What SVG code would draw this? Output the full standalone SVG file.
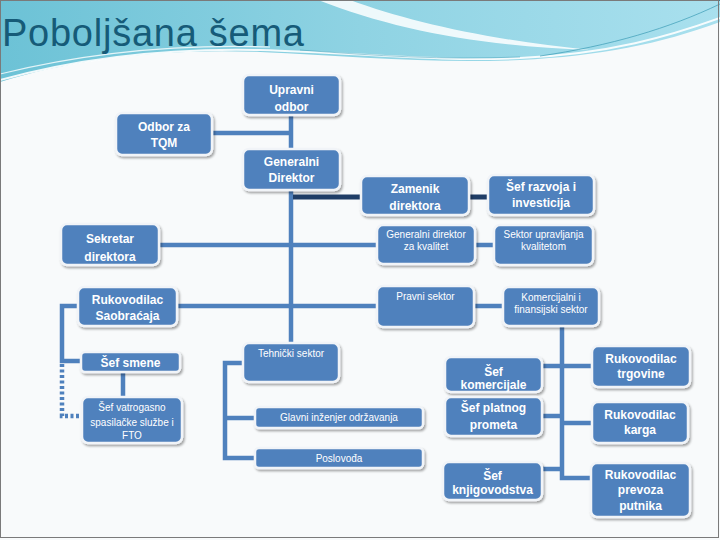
<svg xmlns="http://www.w3.org/2000/svg" width="720" height="540" viewBox="0 0 720 540">
<defs>
<linearGradient id="wave" x1="0" y1="0" x2="1" y2="0">
<stop offset="0" stop-color="#6cc2d6"/>
<stop offset="0.5" stop-color="#8fd3e3"/>
<stop offset="1" stop-color="#a9e0ee"/>
</linearGradient>
<filter id="sh" x="-10%" y="-10%" width="130%" height="140%">
<feDropShadow dx="1.5" dy="2" stdDeviation="1.2" flood-color="#000" flood-opacity="0.35"/>
</filter>
<style>
.box{fill:#4f81bd;stroke:#f1f4f8;stroke-width:2.5;filter:url(#sh)}
.t{font-family:"Liberation Sans",Arial,sans-serif;font-size:12px;font-weight:bold;fill:#ffffff;text-anchor:middle}
.s{font-family:"Liberation Sans",Arial,sans-serif;font-size:10px;fill:#ffffff;text-anchor:middle}
.c{fill:none;stroke:#4f81bd;stroke-width:4.5}
.navy{fill:none;stroke:#1f3d66;stroke-width:5}
.dot{fill:none;stroke:#4f81bd;stroke-width:4.5;stroke-dasharray:3 2.5}
</style>
</defs>
<rect x="0" y="0" width="720" height="540" fill="#f8fafb"/>
<g id="background">
<path d="M0,0 H720 V22 C660,44 600,56 520,60 C430,64 350,56 260,52 C160,48 70,60 0,82 Z" fill="url(#wave)"/>
<path d="M318,0 L350,0 C410,22 490,40 590,50 C480,46 395,30 318,0 Z" fill="#ffffff" opacity="0.85"/>
<path d="M0,80 C80,58 170,48 260,50 C360,53 440,62 520,58 C610,54 670,36 720,18" fill="none" stroke="#ffffff" stroke-width="2" opacity="0.9"/>
<path d="M0,74 C90,52 180,44 270,47" fill="none" stroke="#ffffff" stroke-width="1.2" opacity="0.8"/>
<path d="M540,56 C610,46 670,28 720,4" fill="none" stroke="#3a9bb5" stroke-width="1" opacity="0.7"/>
<path d="M300,50 C380,56 440,60 520,57" fill="none" stroke="#3a9bb5" stroke-width="0.8" opacity="0.6"/>
<line x1="0" y1="0.5" x2="720" y2="0.5" stroke="#3f7f95" stroke-width="1"/>
<rect x="0.5" y="0.5" width="718" height="537" fill="none" stroke="#7a7a7a" stroke-width="1"/>
</g>
<text x="2" y="46" font-family="Liberation Sans,Arial,sans-serif" font-size="38" fill="#165b78" textLength="302" lengthAdjust="spacing">Poboljšana šema</text>
<g id="connectors">
<path class="c" d="M291,115 V149"/>
<path class="c" d="M212,133 H291"/>
<path class="c" d="M291,190 V343"/>
<path class="navy" d="M293,197 H361"/>
<path class="navy" d="M470,197 H488"/>
<path class="c" d="M159,245 H377"/>
<path class="c" d="M475,245 H494"/>
<path class="c" d="M177,306 H377"/>
<path class="c" d="M474,306 H503"/>
<path class="c" d="M78,306 H62 V361 H81"/>
<path class="dot" d="M62,364 V416 H82"/>
<path class="c" d="M123,372 V397"/>
<path class="c" d="M243,363 H225 V458 H255"/>
<path class="c" d="M225,418 H255"/>
<path class="c" d="M562,326 V478 H591"/>
<path class="c" d="M542,366 H592"/>
<path class="c" d="M542,416 H562"/>
<path class="c" d="M562,423 H592"/>
<path class="c" d="M542,469 H562"/>
</g>
<g id="n-upravni"><rect class="box" x="243" y="75" width="97" height="40" rx="6"/><text class="t" x="291.5" y="94">Upravni</text><text class="t" x="291.5" y="111">odbor</text></g>
<g id="n-tqm"><rect class="box" x="116" y="113" width="96" height="42" rx="6"/><text class="t" x="164" y="131">Odbor za</text><text class="t" x="164" y="147">TQM</text></g>
<g id="n-gendir"><rect class="box" x="243" y="149" width="97" height="41" rx="6"/><text class="t" x="291.5" y="166">Generalni</text><text class="t" x="291.5" y="182">Direktor</text></g>
<g id="n-zamenik"><rect class="box" x="361" y="176" width="108" height="39" rx="6"/><text class="t" x="415" y="193">Zamenik</text><text class="t" x="415" y="210">direktora</text></g>
<g id="n-razvoj"><rect class="box" x="488" y="175" width="106" height="40" rx="6"/><text class="t" x="541" y="191">Šef razvoja i</text><text class="t" x="541" y="207">investicija</text></g>
<g id="n-sekretar"><rect class="box" x="61" y="224" width="98" height="41" rx="6"/><text class="t" x="110" y="243">Sekretar</text><text class="t" x="110" y="261">direktora</text></g>
<g id="n-gdkval"><rect class="box" x="377" y="225" width="98" height="39" rx="6"/><text class="s" x="426" y="238">Generalni direktor</text><text class="s" x="426" y="250">za kvalitet</text></g>
<g id="n-sektorkval"><rect class="box" x="494" y="225" width="99" height="40" rx="6"/><text class="s" x="543.5" y="238">Sektor upravljanja</text><text class="s" x="543.5" y="250">kvalitetom</text></g>
<g id="n-ruksaob"><rect class="box" x="78" y="287" width="99" height="39" rx="6"/><text class="t" x="127.5" y="304">Rukovodilac</text><text class="t" x="127.5" y="320">Saobraćaja</text></g>
<g id="n-pravni"><rect class="box" x="377" y="286" width="97" height="41" rx="6"/><text class="s" x="425.5" y="300">Pravni sektor</text></g>
<g id="n-komerc"><rect class="box" x="503" y="287" width="96" height="39" rx="6"/><text class="s" x="551" y="301">Komercijalni i</text><text class="s" x="551" y="313">finansijski sektor</text></g>
<g id="n-sefsmene"><rect class="box" x="81" y="352" width="99" height="20" rx="4"/><text class="t" x="130.5" y="367">Šef smene</text></g>
<g id="n-tehnicki"><rect class="box" x="243" y="343" width="96" height="39" rx="6"/><text class="s" x="291" y="357">Tehnički sektor</text></g>
<g id="n-sefkom"><rect class="box" x="445" y="357" width="97" height="35" rx="6"/><text class="t" x="493.5" y="376">Šef</text><text class="t" x="493.5" y="389">komercijale</text></g>
<g id="n-ruktrg"><rect class="box" x="592" y="346" width="98" height="41" rx="6"/><text class="t" x="641" y="363">Rukovodilac</text><text class="t" x="641" y="378">trgovine</text></g>
<g id="n-vatro"><rect class="box" x="82" y="397" width="100" height="46" rx="6"/><text class="s" x="132" y="411">Šef vatrogasno</text><text class="s" x="132" y="426">spasilačke službe i</text><text class="s" x="132" y="439">FTO</text></g>
<g id="n-platni"><rect class="box" x="445" y="397" width="97" height="39" rx="6"/><text class="t" x="493.5" y="412">Šef platnog</text><text class="t" x="493.5" y="429">prometa</text></g>
<g id="n-karga"><rect class="box" x="592" y="402" width="96" height="41" rx="6"/><text class="t" x="640" y="419">Rukovodilac</text><text class="t" x="640" y="434">karga</text></g>
<g id="n-glavni"><rect class="box" x="255" y="407" width="168" height="21" rx="4"/><text class="s" x="339" y="421">Glavni inženjer održavanja</text></g>
<g id="n-poslovodja"><rect class="box" x="255" y="448" width="168" height="20" rx="4"/><text class="s" x="339" y="462">Poslovođa</text></g>
<g id="n-knjig"><rect class="box" x="443" y="462" width="99" height="38" rx="6"/><text class="t" x="492.5" y="480">Šef</text><text class="t" x="492.5" y="494">knjigovodstva</text></g>
<g id="n-prevoz"><rect class="box" x="591" y="463" width="99" height="54" rx="6"/><text class="t" x="640.5" y="479">Rukovodilac</text><text class="t" x="640.5" y="494">prevoza</text><text class="t" x="640.5" y="510">putnika</text></g>
</svg>
